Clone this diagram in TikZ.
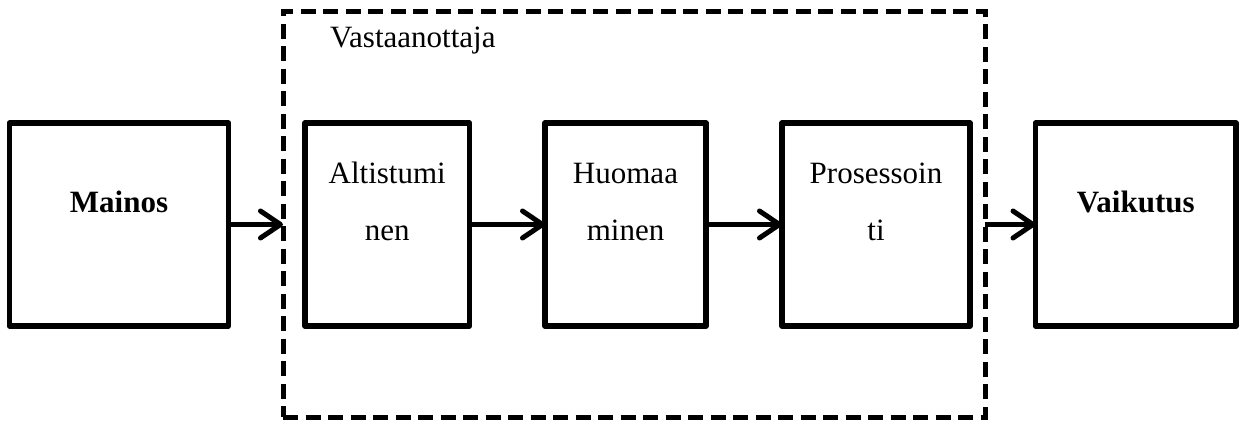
\documentclass[tikz,border=0pt]{standalone}
\usepackage{fontspec}
\setmainfont{Liberation Serif}
\usetikzlibrary{arrows.meta}
\begin{document}
\begin{tikzpicture}[x=1pt,y=1pt,
  stagebox/.style={draw, line width=5.5pt, line join=round, rectangle,
    minimum height=203pt, outer sep=0pt, inner sep=0pt},
  groupbox/.style={draw, line width=5pt, rectangle, dash pattern=on 15pt off 7.5pt,
    minimum width=702pt, minimum height=406pt, outer sep=0pt, inner sep=0pt},
  lbl/.style={anchor=base, inner sep=0pt, font=\fontsize{31}{37}\selectfont},
  flow/.style={line width=5pt, -{Straight Barb[length=20pt,width=27pt,round]}}
]
\useasboundingbox (0,0) rectangle (1247,-423);

% receiver group
\node[groupbox] (recv) at (634,-214) {};
\node[lbl, anchor=base west] (recvlbl) at (330,-47) {Vastaanottaja};

% stages
\node[stagebox, minimum width=219pt] (mainos) at (119,-224.5) {};
\node[stagebox, minimum width=164.5pt] (alt) at (387.25,-224.5) {};
\node[stagebox, minimum width=161pt] (huo) at (625.5,-224.5) {};
\node[stagebox, minimum width=188pt] (pro) at (876,-224.5) {};
\node[stagebox, minimum width=200.5pt] (vai) at (1135.75,-224.5) {};

% stage texts
\node[lbl, font=\fontsize{31}{37}\selectfont\bfseries] (tmainos) at (119,-212) {Mainos};
\node[lbl] (talt1) at (387.25,-183) {Altistumi};
\node[lbl] (talt2) at (387.25,-240) {nen};
\node[lbl] (thuo1) at (625.5,-183) {Huomaa};
\node[lbl] (thuo2) at (625.5,-240) {minen};
\node[lbl] (tpro1) at (876,-183) {Prosessoin};
\node[lbl] (tpro2) at (876,-240) {ti};
\node[lbl, font=\fontsize{31}{37}\selectfont\bfseries] (tvai) at (1135.75,-212) {Vaikutus};

% connectors
\draw[flow] (mainos.east) -- (mainos.east -| recv.west);
\draw[flow] (alt.east) -- (huo.west);
\draw[flow] (huo.east) -- (pro.west);
\draw[flow] (vai.west -| recv.east) -- (vai.west);
\end{tikzpicture}
\end{document}
